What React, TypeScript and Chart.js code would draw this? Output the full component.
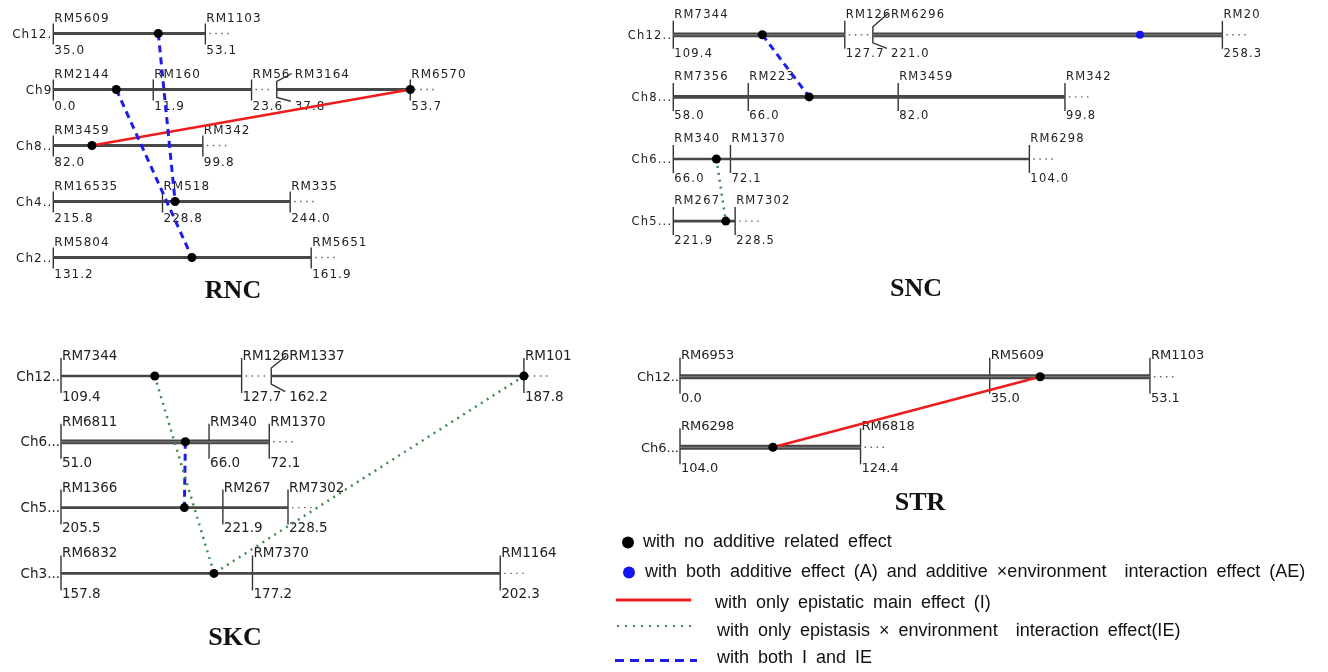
import React, { useEffect, useRef } from "react";
import { Chart, registerables } from "chart.js";

Chart.register(...registerables);

// ================= DATA =================
// ---- RNC ----
const rncChromosomes = ["Ch12.", "Ch9", "Ch8..", "Ch4..", "Ch2.."];
const rncMarkerNames = [
  ["RM5609", "RM1103"],
  ["RM2144", "RM160", "RM56", "RM3164", "RM6570"],
  ["RM3459", "RM342"],
  ["RM16535", "RM518", "RM335"],
  ["RM5804", "RM5651"],
];
const rncMarkerCM = [
  [35.0, 53.1],
  [0.0, 11.9, 23.6, 37.8, 53.7],
  [82.0, 99.8],
  [215.8, 228.8, 244.0],
  [131.2, 161.9],
];
const rncBreakAfter = [-1, 2, -1, -1, -1];
const rncQtlChrom = [0, 1, 1, 2, 3, 4];
const rncQtlCM = [47.5, 7.5, 53.7, 86.6, 230.3, 147.7];
const rncQtlAdditive = [false, false, false, false, false, false];
const rncLinkFrom = [0, 1, 3];
const rncLinkTo = [4, 5, 2];
const rncLinkType = ["I+IE", "I+IE", "I"];

// ---- SNC ----
const sncChromosomes = ["Ch12..", "Ch8...", "Ch6...", "Ch5..."];
const sncMarkerNames = [
  ["RM7344", "RM126", "RM6296", "RM20"],
  ["RM7356", "RM223", "RM3459", "RM342"],
  ["RM340", "RM1370", "RM6298"],
  ["RM267", "RM7302"],
];
const sncMarkerCM = [
  [109.4, 127.7, 221.0, 258.3],
  [58.0, 66.0, 82.0, 99.8],
  [66.0, 72.1, 104.0],
  [221.9, 228.5],
];
const sncBreakAfter = [1, -1, -1, -1];
const sncQtlChrom = [0, 0, 1, 2, 3];
const sncQtlCM = [118.9, 249.5, 72.5, 70.6, 227.5];
const sncQtlAdditive = [false, true, false, false, false];
const sncLinkFrom = [0, 3];
const sncLinkTo = [2, 4];
const sncLinkType = ["I+IE", "IE"];

// ---- SKC ----
const skcChromosomes = ["Ch12..", "Ch6...", "Ch5...", "Ch3..."];
const skcMarkerNames = [
  ["RM7344", "RM126", "RM1337", "RM101"],
  ["RM6811", "RM340", "RM1370"],
  ["RM1366", "RM267", "RM7302"],
  ["RM6832", "RM7370", "RM1164"],
];
const skcMarkerCM = [
  [109.4, 127.7, 162.2, 187.8],
  [51.0, 66.0, 72.1],
  [205.5, 221.9, 228.5],
  [157.8, 177.2, 202.3],
];
const skcBreakAfter = [1, -1, -1, -1];
const skcQtlChrom = [0, 0, 1, 2, 3];
const skcQtlCM = [118.9, 187.8, 63.6, 218.0, 173.3];
const skcQtlAdditive = [false, false, false, false, false];
const skcLinkFrom = [0, 1, 2];
const skcLinkTo = [4, 4, 3];
const skcLinkType = ["IE", "IE", "I+IE"];

// ---- STR ----
const strChromosomes = ["Ch12..", "Ch6..."];
const strMarkerNames = [
  ["RM6953", "RM5609", "RM1103"],
  ["RM6298", "RM6818"],
];
const strMarkerCM = [
  [0.0, 35.0, 53.1],
  [104.0, 124.4],
];
const strBreakAfter = [-1, -1];
const strQtlChrom = [0, 1];
const strQtlCM = [40.7, 114.5];
const strQtlAdditive = [false, false];
const strLinkFrom = [0];
const strLinkTo = [1];
const strLinkType = ["I"];

const panelTitles = ["RNC", "SNC", "SKC", "STR"];
const legendLabels = [
  "with no additive related effect",
  "with both additive effect (A) and additive \u00D7environment  interaction effect (AE)",
  "with only epistatic main effect (I)",
  "with only epistasis \u00D7 environment  interaction effect(IE)",
  "with both I and IE",
];

// ================= LAYOUT / STYLE =================
const W = 1328;
const H = 672;
const BREAK_UNITS = 3;

const PANEL_LAYOUT = [
  { ox: 53.3, pxPerCM: 8.4, oy: 33.5, rowGap: 56, titleX: 233, titleY: 291, fontPx: 12, letter: 1, tickUp: 10, tickDown: 11, nameDy: -12, valueDy: 20.7, barWidths: [2.8, 2.8, 2.8, 2.8, 2.8] },
  { ox: 673.3, pxPerCM: 9.37, oy: 34.8, rowGap: 62.1, titleX: 916, titleY: 289, fontPx: 11.5, letter: 1.2, tickUp: 14, tickDown: 14, nameDy: -17, valueDy: 22.5, barWidths: [4.8, 3.6, 2.6, 2.6] },
  { ox: 61, pxPerCM: 9.87, oy: 376, rowGap: 65.8, titleX: 235, titleY: 638, fontPx: 13.5, letter: 0, tickUp: 18, tickDown: 17, nameDy: -16, valueDy: 24.7, barWidths: [2.6, 4.8, 2.6, 2.6] },
  { ox: 680, pxPerCM: 8.85, oy: 376.7, rowGap: 70.6, titleX: 920, titleY: 503, fontPx: 13, letter: 0, tickUp: 19, tickDown: 17, nameDy: -17.5, valueDy: 25, barWidths: [5, 5] },
];

const LINK_STYLE: Record<string, { color: string; width: number; dash: number[] }> = {
  I: { color: "#ee1c1c", width: 2.5, dash: [] },
  IE: { color: "#3f8a4c", width: 2.5, dash: [2, 5] },
  "I+IE": { color: "#1e1ee8", width: 3, dash: [7, 5] },
};

const LEGEND_LAYOUT = [
  { kind: "dot", color: "#000000", x: 628, y: 542.5, textX: 643, textY: 542.5 },
  { kind: "dot", color: "#1515ee", x: 629, y: 572.5, textX: 645, textY: 572.5 },
  { kind: "line", style: "I", x1: 616, x2: 691, y: 600, textX: 715, textY: 603 },
  { kind: "line", style: "IE", x1: 617, x2: 695, y: 626, textX: 717, textY: 631 },
  { kind: "line", style: "I+IE", x1: 615, x2: 697, y: 660.5, textX: 717, textY: 658.5 },
];

// ================= BUILD =================
const PANELS = [
  { chrom: rncChromosomes, names: rncMarkerNames, cm: rncMarkerCM, brk: rncBreakAfter, qc: rncQtlChrom, qcm: rncQtlCM, qa: rncQtlAdditive, lf: rncLinkFrom, lt: rncLinkTo, ltype: rncLinkType },
  { chrom: sncChromosomes, names: sncMarkerNames, cm: sncMarkerCM, brk: sncBreakAfter, qc: sncQtlChrom, qcm: sncQtlCM, qa: sncQtlAdditive, lf: sncLinkFrom, lt: sncLinkTo, ltype: sncLinkType },
  { chrom: skcChromosomes, names: skcMarkerNames, cm: skcMarkerCM, brk: skcBreakAfter, qc: skcQtlChrom, qcm: skcQtlCM, qa: skcQtlAdditive, lf: skcLinkFrom, lt: skcLinkTo, ltype: skcLinkType },
  { chrom: strChromosomes, names: strMarkerNames, cm: strMarkerCM, brk: strBreakAfter, qc: strQtlChrom, qcm: strQtlCM, qa: strQtlAdditive, lf: strLinkFrom, lt: strLinkTo, ltype: strLinkType },
];

// map position on a chromosome: cM from the first marker, with a break region compressed
function compress(cms: number[], brk: number, cm: number) {
  let u = cm - cms[0];
  if (brk >= 0 && cm >= cms[brk + 1]) u -= cms[brk + 1] - cms[brk] - BREAK_UNITS;
  return u;
}

function buildDatasets() {
  const ds: any[] = [];
  PANELS.forEach((p, pi) => {
    const L = PANEL_LAYOUT[pi];
    const axes = { xAxisID: "x" + pi, yAxisID: "y" + pi };
    // chromosome bars
    p.chrom.forEach((_, c) => {
      const cms = p.cm[c];
      const brk = p.brk[c];
      const segs: number[][] = brk >= 0 ? [[cms[0], cms[brk]], [cms[brk + 1], cms[cms.length - 1]]] : [[cms[0], cms[cms.length - 1]]];
      const w = L.barWidths[c];
      segs.forEach((s) => {
        const data = s.map((v) => ({ x: compress(cms, brk, v), y: c }));
        ds.push({ type: "scatter", data, showLine: true, pointRadius: 0, borderColor: "#474747", borderWidth: w, order: 3, ...axes });
        if (w >= 4) {
          ds.push({ type: "scatter", data, showLine: true, pointRadius: 0, borderColor: "#767676", borderWidth: 1.3, order: 2.5, ...axes });
        }
      });
    });
    // interaction links
    p.lf.forEach((a, k) => {
      const b = p.lt[k];
      const st = LINK_STYLE[p.ltype[k]];
      const pts = [a, b].map((q) => {
        const c = p.qc[q];
        return { x: compress(p.cm[c], p.brk[c], p.qcm[q]), y: c };
      });
      ds.push({ type: "scatter", data: pts, showLine: true, pointRadius: 0, borderColor: st.color, borderWidth: st.width, borderDash: st.dash, order: 1, ...axes });
    });
    // QTL points
    const qpts = p.qcm.map((v, q) => {
      const c = p.qc[q];
      return { x: compress(p.cm[c], p.brk[c], v), y: c };
    });
    ds.push({
      type: "scatter",
      data: qpts,
      showLine: false,
      pointRadius: p.qa.map((a) => (a ? 4 : 4.5)),
      pointBackgroundColor: p.qa.map((a) => (a ? "#1515ee" : "#000000")),
      pointBorderColor: p.qa.map((a) => (a ? "#1515ee" : "#000000")),
      pointBorderWidth: 0,
      order: 0,
      ...axes,
    });
  });
  return ds;
}

function buildScales() {
  const scales: any = {
    x: { type: "linear", display: false },
    y: { type: "linear", display: false },
  };
  PANEL_LAYOUT.forEach((L, i) => {
    scales["x" + i] = { type: "linear", display: false, min: -L.ox / L.pxPerCM, max: (W - L.ox) / L.pxPerCM };
    scales["y" + i] = { type: "linear", display: false, reverse: true, min: -L.oy / L.rowGap, max: (H - L.oy) / L.rowGap };
  });
  return scales;
}

function dotted(ctx: CanvasRenderingContext2D, x1: number, x2: number, y: number) {
  ctx.save();
  ctx.strokeStyle = "#666";
  ctx.lineWidth = 1.4;
  ctx.setLineDash([1.5, 4.5]);
  ctx.beginPath();
  ctx.moveTo(x1, y);
  ctx.lineTo(x2, y);
  ctx.stroke();
  ctx.restore();
}

const decorPlugin = {
  id: "mapDecor",
  beforeDatasetsDraw(chart: any) {
    const ctx: CanvasRenderingContext2D = chart.ctx;
    PANELS.forEach((p, pi) => {
      const L = PANEL_LAYOUT[pi];
      const xs = chart.scales["x" + pi];
      const ys = chart.scales["y" + pi];
      ctx.save();
      ctx.font = `${L.fontPx}px "DejaVu Sans"`;
      (ctx as any).letterSpacing = `${L.letter}px`;
      p.chrom.forEach((label, c) => {
        const cms = p.cm[c];
        const brk = p.brk[c];
        const y = ys.getPixelForValue(c);
        const x0 = xs.getPixelForValue(0);
        ctx.fillStyle = "#222";
        ctx.textAlign = "right";
        ctx.textBaseline = "middle";
        ctx.fillText(label, x0 - 1, y + 1);
        ctx.textAlign = "left";
        ctx.textBaseline = "alphabetic";
        const xsPix = cms.map((v) => xs.getPixelForValue(compress(cms, brk, v)));
        cms.forEach((cm, m) => {
          const x = xsPix[m];
          const shifted = brk >= 0 && m === brk + 1;
          ctx.strokeStyle = "#333";
          ctx.lineWidth = 1.4;
          ctx.setLineDash([]);
          ctx.beginPath();
          let lx = x + 1;
          if (shifted) {
            ctx.moveTo(x + 15, y + L.nameDy - 4);
            ctx.lineTo(x, y - 8);
            ctx.lineTo(x, y + 8);
            ctx.lineTo(x + 14, y + L.valueDy - 9);
            lx = x + 18;
          } else {
            ctx.moveTo(x, y - L.tickUp);
            ctx.lineTo(x, y + L.tickDown);
          }
          ctx.stroke();
          ctx.fillText(p.names[c][m], lx, y + L.nameDy);
          ctx.fillText(cm.toFixed(1), lx, y + L.valueDy);
        });
        if (brk >= 0) dotted(ctx, xsPix[brk] + 4, xsPix[brk + 1] - 3, y);
        const xl = xsPix[xsPix.length - 1];
        dotted(ctx, xl + 4, xl + 27, y);
      });
      ctx.restore();
    });
  },
  afterDraw(chart: any) {
    const ctx: CanvasRenderingContext2D = chart.ctx;
    ctx.save();
    // panel titles
    ctx.fillStyle = "#111";
    ctx.font = 'bold 26px "Liberation Serif"';
    ctx.textAlign = "center";
    ctx.textBaseline = "middle";
    panelTitles.forEach((t, i) => ctx.fillText(t, PANEL_LAYOUT[i].titleX, PANEL_LAYOUT[i].titleY));
    // legend
    ctx.font = '18px "Liberation Sans"';
    (ctx as any).wordSpacing = "4px";
    ctx.textAlign = "left";
    legendLabels.forEach((label, i) => {
      const it: any = LEGEND_LAYOUT[i];
      if (it.kind === "dot") {
        ctx.fillStyle = it.color;
        ctx.beginPath();
        ctx.arc(it.x, it.y, 6, 0, Math.PI * 2);
        ctx.fill();
      } else {
        const st = LINK_STYLE[it.style];
        ctx.strokeStyle = st.color;
        ctx.lineWidth = it.style === "IE" ? 2.2 : 3.2;
        ctx.setLineDash(it.style === "IE" ? [2, 6] : it.style === "I+IE" ? [9, 6] : []);
        ctx.beginPath();
        ctx.moveTo(it.x1, it.y);
        ctx.lineTo(it.x2, it.y);
        ctx.stroke();
        ctx.setLineDash([]);
      }
      ctx.fillStyle = "#111";
      ctx.fillText(label, it.textX, it.textY);
    });
    ctx.restore();
  },
};

export default function App() {
  const ref = useRef<HTMLCanvasElement>(null);
  useEffect(() => {
    document.body.style.margin = "0";
    document.body.style.overflow = "hidden";
    const chart = new Chart(ref.current as HTMLCanvasElement, {
      type: "scatter",
      data: { datasets: buildDatasets() },
      options: {
        animation: false,
        responsive: false,
        devicePixelRatio: 1,
        events: [],
        layout: { padding: 0, autoPadding: false },
        plugins: { legend: { display: false }, title: { display: false }, tooltip: { enabled: false } },
        scales: buildScales(),
      } as any,
      plugins: [decorPlugin],
    });
    return () => chart.destroy();
  }, []);
  return (
    <div style={{ width: W, height: H, background: "#ffffff", position: "relative" }}>
      <canvas ref={ref} width={W} height={H} style={{ display: "block" }} />
    </div>
  );
}
